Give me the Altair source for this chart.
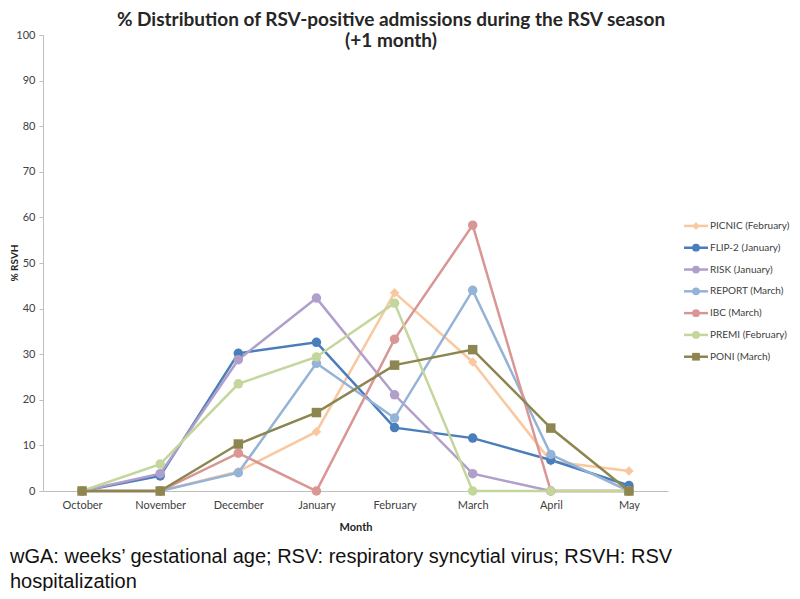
import altair as alt
import pandas as pd

months = ["October", "November", "December", "January", "February", "March", "April", "May"]
series = ["PICNIC (February)", "FLIP-2  (January)", "RISK (January)", "REPORT (March)",
          "IBC (March)", "PREMI (February)", "PONI (March)"]
colors = ["#F9C8A0", "#4A7EBB", "#B09FCB", "#95B3D7", "#D99694", "#C3D69B", "#8E8650"]
shapes = ["diamond", "circle", "circle", "circle", "circle", "circle", "square"]

picnic = [0, 0, 4.3, 13.0, 43.5, 28.3, 6.5, 4.4]
flip2 = [0, 3.3, 30.2, 32.6, 13.9, 11.6, 6.8, 1.2]
risk = [0, 3.8, 28.8, 42.3, 21.1, 3.8, 0, 0]
report = [0, 0, 4.0, 28.0, 16.0, 44.0, 8.0, 0]
ibc = [0, 0, 8.3, 0, 33.3, 58.3, 0, 0]
premi = [0, 5.9, 23.5, 29.4, 41.2, 0, 0, 0]
poni = [0, 0, 10.3, 17.2, 27.6, 31.0, 13.8, 0]

values = [picnic, flip2, risk, report, ibc, premi, poni]

title_lines = ["% Distribution of RSV-positive admissions during the RSV season", "(+1 month)"]
foot_lines = ["wGA: weeks\u2019 gestational age; RSV: respiratory syncytial virus; RSVH: RSV",
              "hospitalization"]

rows = []
for s, vals in zip(series, values):
    for m, v in zip(months, vals):
        rows.append({"series": s, "month": m, "value": v})
df = pd.DataFrame(rows)

leg = pd.DataFrame({"series": series, "idx": list(range(len(series)))})

FONT = "Lato"
W, H = 625, 456

color = alt.Color("series:N", scale=alt.Scale(domain=series, range=colors), legend=None)
shape = alt.Shape("series:N", scale=alt.Scale(domain=series, range=shapes), legend=None)

x = alt.X("month:N", sort=months,
          scale=alt.Scale(type="point", padding=0.5),
          axis=alt.Axis(title="Month", labelAngle=0, ticks=False, grid=False, domainColor="#BFBFBF",
                        labelFont=FONT, labelFontSize=11, labelColor="#404040", labelPadding=8,
                        titleFont=FONT, titleFontSize=11, titleFontWeight="bold",
                        titleColor="#262626", titlePadding=11))
y = alt.Y("value:Q", scale=alt.Scale(domain=[0, 100], nice=False),
          axis=alt.Axis(title=None, values=list(range(0, 101, 10)), grid=False,
                        domainColor="#BFBFBF", tickColor="#BFBFBF", tickSize=4,
                        labelFont=FONT, labelFontSize=11, labelColor="#404040", labelPadding=4))

lines = alt.Chart(df).mark_line(strokeWidth=2.5).encode(x=x, y=y, color=color, detail="series:N")
points = alt.Chart(df).mark_point(filled=True, size=90, opacity=1).encode(
    x=x, y=y, color=color, shape=shape)
main = alt.layer(lines, points)

ly = alt.Y("idx:Q", scale=alt.Scale(domain=[-8.76, 12.16], reverse=True, nice=False, zero=False), axis=None)
leg_rule = alt.Chart(leg).mark_rule(strokeWidth=2.5).encode(
    y=ly, x=alt.value(641), x2=alt.value(665), color=color)
leg_pt = alt.Chart(leg).mark_point(filled=True, size=60, opacity=1).encode(
    y=ly, x=alt.value(653), color=color, shape=shape)
leg_txt = alt.Chart(leg).mark_text(align="left", baseline="middle", font=FONT, fontSize=10,
                                   color="#404040").encode(
    y=ly, x=alt.value(667), text="series:N")
legend = alt.layer(leg_rule, leg_pt, leg_txt)

ytitle = alt.Chart(pd.DataFrame({"t": ["% RSVH"]})).mark_text(
    align="center", baseline="middle", angle=270, font=FONT, fontSize=10, fontWeight="bold",
    color="#262626").encode(x=alt.value(-28), y=alt.value(H / 2), text="t:N")

t1 = pd.DataFrame({"t": [title_lines[0]]})
t2 = pd.DataFrame({"t": [title_lines[1]]})
title1 = alt.Chart(t1).mark_text(align="center", baseline="middle", font=FONT, fontSize=19,
                                 fontWeight="bold", color="#262626").encode(
    x=alt.value(348), y=alt.value(-15), text="t:N")
title2 = alt.Chart(t2).mark_text(align="center", baseline="middle", font=FONT, fontSize=19,
                                 fontWeight="bold", color="#262626").encode(
    x=alt.value(348), y=alt.value(6), text="t:N")

f1 = pd.DataFrame({"t": [foot_lines[0]]})
f2 = pd.DataFrame({"t": [foot_lines[1]]})
foot1 = alt.Chart(f1).mark_text(align="left", baseline="middle", font="Liberation Sans",
                                fontSize=20, color="#111111").encode(
    x=alt.value(-33), y=alt.value(522), text="t:N")
foot2 = alt.Chart(f2).mark_text(align="left", baseline="middle", font="Liberation Sans",
                                fontSize=20, color="#111111").encode(
    x=alt.value(-33), y=alt.value(547), text="t:N")

chart = alt.layer(main, legend, ytitle, title1, title2, foot1, foot2).resolve_scale(
    y="independent"
).properties(
    width=W, height=H,
    background="white",
    autosize=alt.AutoSizeParams(type="none"),
    padding={"left": 35, "top": 27, "right": 124, "bottom": 100},
).configure_view(stroke=None)

chart.save("out.html", embed_options={"renderer": "svg", "actions": False})
